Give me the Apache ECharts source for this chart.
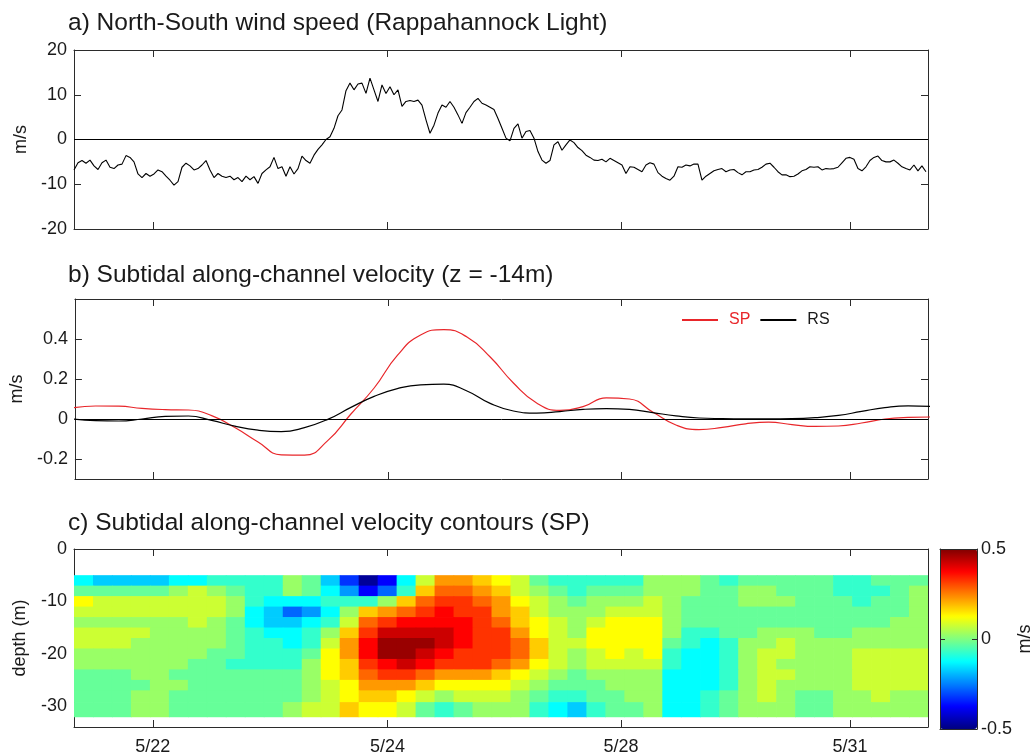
<!DOCTYPE html>
<html>
<head>
<meta charset="utf-8">
<script src="https://cdn.jsdelivr.net/npm/echarts@6/dist/echarts.min.js"></script>
<style>
  html, body { margin: 0; padding: 0; background: #ffffff; }
  #chart { width: 1035px; height: 756px; }
</style>
</head>
<body>
<div id="chart"></div>
<script>
// ---- time axis (shared by the three panels) ----
const tickPositions = [1, 2.01, 3.015, 4];
const tickLabels = ['5/22', '5/24', '5/28', '5/31'];
const timeMin = 0.661;
const timeMax = 4.336;

// ---- a) North-South wind speed, m/s, regular samples ----
const windStart = 0.661;
const windStep = 0.017212;
const windSpeed = [
  -6.8, -5.2, -4.7, -5.3, -4.6, -5.9, -6.7, -5.2, -4.6, -6.2,
  -6.5, -5.7, -5.5, -3.6, -4.0, -5.0, -7.7, -8.5, -7.6, -8.2,
  -7.7, -6.8, -7.2, -8.2, -9.1, -10.2, -9.4, -6.2, -5.3, -5.9,
  -6.8, -6.5, -5.7, -4.7, -6.8, -8.5, -7.6, -8.2, -8.5, -8.2,
  -9.0, -8.5, -9.4, -8.2, -9.0, -8.3, -9.8, -7.6, -6.8, -6.1,
  -4.0, -6.5, -6.1, -8.2, -6.1, -7.7, -6.5, -3.7, -4.7, -5.3,
  -3.5, -2.2, -1.2, 0.0, 0.6, 2.5, 5.3, 6.6, 10.9, 12.6,
  11.1, 12.4, 12.6, 10.3, 13.7, 11.1, 8.5, 12.2, 10.3, 11.8,
  10.0, 11.1, 7.4, 8.5, 8.7, 8.5, 8.8, 7.7, 4.4, 1.4,
  3.2, 5.9, 7.7, 7.2, 8.5, 7.2, 5.5, 3.6, 6.0, 7.2,
  8.5, 9.2, 8.1, 7.7, 7.2, 6.7, 4.7, 2.5, 0.3, -0.3,
  2.5, 3.5, 0.3, 1.8, 2.0, 0.3, -2.7, -4.6, -5.3, -4.7,
  -1.2, -0.5, -2.4, -1.2, -0.1, -0.7, -1.8, -2.5, -3.5, -4.0,
  -4.6, -4.7, -4.4, -5.0, -4.2, -4.7, -5.2, -5.7, -7.6, -6.1,
  -6.2, -6.7, -7.2, -5.7, -5.2, -5.5, -7.4, -8.2, -8.7, -9.1,
  -8.2, -6.1, -6.2, -5.7, -5.9, -5.5, -5.5, -9.1, -8.2, -7.6,
  -7.0, -6.7, -6.5, -7.2, -6.8, -6.7, -7.4, -7.9, -7.2, -7.2,
  -6.8, -6.7, -6.2, -5.5, -5.3, -6.2, -7.2, -7.9, -7.9, -8.3,
  -8.2, -7.7, -7.0, -6.7, -6.1, -6.2, -6.1, -6.8, -6.5, -6.6,
  -6.5, -6.2, -5.2, -4.2, -4.0, -4.4, -6.5, -7.0, -6.1, -4.7,
  -4.0, -3.7, -4.7, -5.0, -5.0, -4.6, -5.3, -6.1, -6.5, -6.8,
  -5.7, -7.0, -5.9, -7.2
];

// ---- b) subtidal along-channel velocity at z = -14 m, m/s ----
const velStart = 0.65;
const velStep = 0.1;
const velSP = [
  0.055, 0.065, 0.064, 0.053, 0.047, 0.045, 0.017, -0.043, -0.115, -0.179,
  -0.181, -0.108, 0.025, 0.155, 0.318, 0.42, 0.447, 0.41, 0.31, 0.18,
  0.08, 0.043, 0.062, 0.106, 0.1, 0.035, -0.03, -0.053, -0.042, -0.024,
  -0.016, -0.028, -0.037, -0.035, -0.02, 0.0, 0.008, 0.01
];
const velRS = [
  0.0, -0.008, -0.01, 0.0, 0.013, 0.015, -0.007, -0.036, -0.056, -0.063,
  -0.043, -0.002, 0.058, 0.113, 0.152, 0.171, 0.174, 0.14, 0.078, 0.04,
  0.029, 0.037, 0.048, 0.052, 0.048, 0.032, 0.016, 0.005, 0.002, 0.001,
  0.001, 0.002, 0.007, 0.018, 0.038, 0.057, 0.066, 0.063
];

// ---- c) SP velocity section: rows by depth, 45 time columns, m/s ----
const depthRows = [-6, -8, -10, -12, -14, -16, -18, -20, -22, -24, -26, -28, -30.5];
const sectionTop = -5;
const sectionBottom = -32;
const sectionSP = [
  [-0.13,-0.18,-0.18,-0.18,-0.18,-0.13,-0.13,-0.08,-0.08,-0.08,-0.08,0.03,-0.03,-0.18,-0.33, -0.47,-0.38,-0.13,0.08,0.23,0.23,0.18,0.13,0.08,-0.03,-0.08,-0.08,-0.08,-0.08,-0.08, 0.03,0.03,0.03,-0.03,-0.08,-0.03,-0.03,-0.03,-0.03,-0.03,-0.08,-0.08,-0.03,-0.03,-0.03],
  [-0.03,-0.03,-0.03,-0.03,-0.03,0.03,0.08,0.03,-0.03,-0.08,-0.08,0.03,-0.03,-0.13,-0.23, -0.38,-0.28,-0.08,0.18,0.28,0.28,0.23,0.18,0.08,0.03,-0.03,-0.08,-0.03,-0.03,-0.03, 0.03,0.03,0.03,-0.03,-0.03,0.03,0.03,-0.03,-0.03,-0.03,-0.08,-0.08,-0.08,-0.03,0.03],
  [0.13,0.08,0.08,0.08,0.08,0.08,0.08,0.08,0.03,-0.08,-0.13,-0.13,-0.13,-0.08,-0.08, -0.08,0.03,0.18,0.28,0.33,0.33,0.28,0.23,0.13,0.08,0.03,-0.03,0.03,0.03,0.03, 0.08,0.03,-0.03,-0.03,-0.03,0.03,0.03,0.03,-0.03,-0.03,-0.03,-0.08,-0.03,-0.03,0.03],
  [0.08,0.08,0.08,0.08,0.08,0.08,0.08,0.08,0.03,-0.13,-0.18,-0.28,-0.23,-0.13,0.03, 0.18,0.23,0.28,0.33,0.38,0.33,0.33,0.23,0.18,0.08,0.03,0.03,0.03,0.08,0.08, 0.08,0.03,-0.03,-0.03,-0.03,-0.03,-0.03,-0.03,-0.03,-0.03,-0.03,-0.03,-0.03,-0.03,0.03],
  [0.03,0.03,0.03,0.03,0.03,0.03,0.08,0.03,-0.03,-0.13,-0.18,-0.18,-0.13,-0.08,0.08, 0.28,0.33,0.38,0.38,0.38,0.38,0.33,0.28,0.18,0.13,0.08,0.03,0.08,0.13,0.13, 0.13,0.03,-0.03,-0.03,-0.03,-0.03,-0.03,-0.03,-0.03,-0.03,-0.03,-0.03,-0.03,0.03,0.03],
  [0.08,0.08,0.08,0.08,0.03,0.03,0.03,0.03,-0.03,-0.08,-0.13,-0.13,-0.08,0.03,0.18, 0.33,0.43,0.43,0.43,0.43,0.38,0.33,0.33,0.23,0.13,0.08,0.03,0.13,0.13,0.13, 0.13,0.03,-0.08,-0.08,-0.03,-0.03,0.03,0.03,0.03,-0.03,-0.03,0.03,0.03,0.03,0.03],
  [0.08,0.08,0.08,0.03,0.03,0.03,0.03,0.03,-0.03,-0.08,-0.08,-0.13,-0.08,0.08,0.23, 0.38,0.48,0.48,0.48,0.43,0.38,0.33,0.33,0.28,0.18,0.08,0.08,0.13,0.13,0.13, 0.13,-0.03,-0.08,-0.13,-0.08,0.03,0.03,0.08,0.03,0.03,0.03,0.03,0.03,0.03,0.03],
  [0.03,0.03,0.03,0.03,0.03,0.03,0.03,-0.03,-0.03,-0.08,-0.08,-0.08,-0.03,0.13,0.23, 0.38,0.48,0.48,0.43,0.38,0.33,0.33,0.33,0.28,0.18,0.08,0.03,0.08,0.13,0.08, 0.13,-0.08,-0.13,-0.13,-0.08,0.03,0.08,0.08,0.03,0.03,0.03,0.08,0.08,0.08,0.08],
  [0.03,0.03,0.03,0.03,0.03,0.03,-0.03,-0.03,-0.08,-0.08,-0.08,-0.08,0.03,0.13,0.18, 0.33,0.38,0.43,0.38,0.33,0.33,0.33,0.28,0.23,0.13,0.08,0.03,0.08,0.08,0.08, 0.08,-0.08,-0.13,-0.13,-0.08,0.03,0.08,0.03,0.03,0.03,0.03,0.08,0.08,0.08,0.08],
  [-0.03,-0.03,-0.03,0.03,0.03,-0.03,-0.03,-0.03,-0.03,-0.03,-0.03,-0.03,0.03,0.13,0.18, 0.28,0.33,0.33,0.28,0.23,0.23,0.23,0.18,0.13,0.08,0.03,-0.03,0.03,0.03,0.03, 0.03,-0.13,-0.13,-0.13,-0.08,0.03,0.08,0.08,0.03,0.03,0.03,0.08,0.08,0.08,0.08],
  [-0.03,-0.03,-0.03,-0.03,0.03,0.03,-0.03,-0.03,-0.03,-0.03,-0.03,-0.03,0.03,0.08,0.13, 0.23,0.23,0.23,0.18,0.13,0.13,0.13,0.13,0.08,0.03,-0.03,-0.03,-0.03,0.03,0.03, 0.03,-0.13,-0.13,-0.13,-0.08,0.03,0.08,0.03,0.03,0.03,0.03,0.08,0.08,0.08,0.08],
  [-0.03,-0.03,-0.03,0.03,0.03,-0.03,-0.03,-0.03,-0.03,-0.03,-0.03,-0.03,0.03,0.08,0.13, 0.18,0.18,0.13,0.08,0.03,0.08,0.08,0.08,0.03,-0.03,-0.08,-0.08,-0.03,-0.03,0.03, 0.03,-0.13,-0.13,-0.08,-0.03,0.03,0.08,0.03,-0.03,-0.03,0.03,0.03,0.08,0.03,0.03],
  [-0.03,-0.03,-0.03,0.03,0.03,-0.03,-0.03,-0.03,-0.03,-0.03,-0.03,0.03,0.08,0.08,0.18, 0.13,0.13,0.08,-0.03,-0.08,-0.03,0.03,0.03,0.03,-0.08,-0.13,-0.18,-0.08,-0.03,-0.03, 0.03,-0.13,-0.13,-0.08,-0.03,0.03,0.03,0.03,-0.03,-0.03,0.03,0.03,0.03,0.03,0.03]
];
const contourLevels = [-0.5, -0.45, -0.4, -0.35, -0.3, -0.25, -0.2, -0.15, -0.1, -0.05, 0,
  0.05, 0.1, 0.15, 0.2, 0.25, 0.3, 0.35, 0.4, 0.45, 0.5];

const titles = [
  'a) North-South wind speed (Rappahannock Light)',
  'b) Subtidal along-channel velocity (z = -14m)',
  'c) Subtidal along-channel velocity contours (SP)'
];

// ---- styling helpers ----
const FONT = '"Liberation Sans", Arial, Helvetica, sans-serif';
const INK = '#1a1a1a';
const FRAME = '#2b2b2b';
const RED = '#e8262a';

function jet(t) {
  const c = v => Math.max(0, Math.min(1, v));
  const r = c(1.5 - Math.abs(4 * t - 3));
  const g = c(1.5 - Math.abs(4 * t - 2));
  const b = c(1.5 - Math.abs(4 * t - 1));
  return 'rgb(' + Math.round(r * 255) + ',' + Math.round(g * 255) + ',' + Math.round(b * 255) + ')';
}
const cMin = contourLevels[0], cMax = contourLevels[contourLevels.length - 1];
const bandPieces = [];
for (let i = 0; i < contourLevels.length - 1; i++) {
  const lo = contourLevels[i], hi = contourLevels[i + 1];
  bandPieces.push({ gte: lo, lt: hi, color: jet(((lo + hi) / 2 - cMin) / (cMax - cMin)) });
}
bandPieces[bandPieces.length - 1].lte = cMax;
delete bandPieces[bandPieces.length - 1].lt;
const jetStops = [];
for (let i = 0; i <= 64; i++) jetStops.push(jet(i / 64));

function timeLabel(v) {
  const i = tickPositions.findIndex(t => Math.abs(t - v) < 1e-6);
  return i >= 0 ? tickLabels[i] : '';
}

function xPair(grid, withLabels) {
  const base = {
    type: 'value', gridIndex: grid, min: timeMin, max: timeMax,
    axisLine: { show: true, onZero: false, lineStyle: { color: FRAME, width: 1 } },
    axisTick: { show: true, inside: true, length: 7, customValues: tickPositions, lineStyle: { color: FRAME } },
    splitLine: { show: false }
  };
  return [
    Object.assign({}, base, {
      position: 'bottom',
      axisLabel: withLabels
        ? { show: true, customValues: tickPositions, formatter: timeLabel, color: INK, fontSize: 18, fontFamily: FONT, margin: 11 }
        : { show: false }
    }),
    Object.assign({}, base, { position: 'top', axisLabel: { show: false } })
  ];
}

function yPair(grid, min, max, ticks, fmt, name, nameGap) {
  const base = {
    type: 'value', gridIndex: grid, min: min, max: max,
    axisLine: { show: true, onZero: false, lineStyle: { color: FRAME, width: 1 } },
    axisTick: { show: true, inside: true, length: 7, customValues: ticks, lineStyle: { color: FRAME } },
    splitLine: { show: false }
  };
  return [
    Object.assign({}, base, {
      position: 'left',
      axisLabel: { show: true, customValues: ticks, formatter: fmt, color: INK, fontSize: 18, fontFamily: FONT, margin: 7 },
      name: name, nameLocation: 'middle', nameGap: nameGap, nameRotate: 90,
      nameTextStyle: { color: INK, fontSize: 18, fontFamily: FONT }
    }),
    Object.assign({}, base, { position: 'right', axisLabel: { show: false } })
  ];
}

const zeroLine = {
  silent: true, symbol: ['none', 'none'], label: { show: false },
  lineStyle: { color: '#000', width: 1, type: 'solid' },
  emphasis: { disabled: true },
  data: [{ yAxis: 0 }]
};

// section cells: [time centre, depth centre, value, column, row]
const nCols = sectionSP[0].length;
const colEdges = [];
for (let c = 0; c <= nCols; c++) colEdges.push(timeMin + (timeMax - timeMin) * c / nCols);
const rowEdges = [sectionTop];
for (let r = 0; r < depthRows.length - 1; r++) rowEdges.push((depthRows[r] + depthRows[r + 1]) / 2);
rowEdges.push(sectionBottom);
const cells = [];
sectionSP.forEach((row, r) => {
  row.forEach((v, c) => {
    cells.push([(colEdges[c] + colEdges[c + 1]) / 2, depthRows[r], v, c, r]);
  });
});

const plainFmt = v => String(v);
const titleStyle = { fontSize: 24.5, fontWeight: 'normal', color: INK, fontFamily: FONT };

const option = {
  animation: false,
  backgroundColor: '#ffffff',
  title: [
    { text: titles[0], left: 68, top: 11, padding: 0, textStyle: titleStyle },
    { text: titles[1], left: 68, top: 263, padding: 0, textStyle: titleStyle },
    { text: titles[2], left: 68, top: 511, padding: 0, textStyle: titleStyle }
  ],
  legend: {
    left: 682, top: 312, padding: 0, itemWidth: 36, itemHeight: 2, itemGap: 10, icon: 'rect',
    textStyle: { fontSize: 16, fontFamily: FONT, color: INK, padding: [0, 0, 0, 6] },
    data: [
      { name: 'SP', textStyle: { color: RED } },
      { name: 'RS', textStyle: { color: INK } }
    ]
  },
  grid: [
    { left: 74, top: 50, width: 854, height: 179 },
    { left: 74, top: 299, width: 854, height: 180 },
    { left: 74, top: 549, width: 854, height: 180 },
    { left: 940, top: 549, width: 37, height: 180 }
  ],
  xAxis: [].concat(
    xPair(0, false),
    xPair(1, false),
    xPair(2, true),
    [
      { type: 'value', gridIndex: 3, min: 0, max: 1, position: 'bottom', z: 8,
        axisLine: { show: true, onZero: false, lineStyle: { color: FRAME } }, axisTick: { show: false }, axisLabel: { show: false }, splitLine: { show: false } },
      { type: 'value', gridIndex: 3, min: 0, max: 1, position: 'top', z: 8,
        axisLine: { show: true, onZero: false, lineStyle: { color: FRAME } }, axisTick: { show: false }, axisLabel: { show: false }, splitLine: { show: false } }
    ]
  ),
  yAxis: [].concat(
    yPair(0, -20, 20, [-20, -10, 0, 10, 20], plainFmt, 'm/s', 40),
    yPair(1, -0.3, 0.6, [-0.2, 0, 0.2, 0.4], plainFmt, 'm/s', 44),
    yPair(2, -34, 0, [-30, -20, -10, 0], plainFmt, 'depth (m)', 45),
    [
      { type: 'value', gridIndex: 3, min: -0.5, max: 0.5, position: 'right', z: 8,
        axisLine: { show: true, onZero: false, lineStyle: { color: FRAME } },
        axisTick: { show: true, inside: true, length: 5, customValues: [-0.5, 0, 0.5], lineStyle: { color: FRAME } },
        axisLabel: { show: true, customValues: [-0.5, 0, 0.5], formatter: plainFmt, color: INK, fontSize: 18, fontFamily: FONT, margin: 4 },
        splitLine: { show: false },
        name: 'm/s', nameLocation: 'middle', nameGap: 23, nameRotate: 90,
        nameTextStyle: { color: INK, fontSize: 18, fontFamily: FONT } },
      { type: 'value', gridIndex: 3, min: -0.5, max: 0.5, position: 'left', z: 8,
        axisLine: { show: true, onZero: false, lineStyle: { color: FRAME } },
        axisTick: { show: true, inside: true, length: 5, customValues: [-0.5, 0, 0.5], lineStyle: { color: FRAME } },
        axisLabel: { show: false }, splitLine: { show: false } }
    ]
  ),
  visualMap: [
    {
      type: 'continuous', seriesIndex: 4, min: cMin, max: cMax,
      orient: 'vertical', left: 940, top: 549, padding: 0,
      itemWidth: 37, itemHeight: 180, calculable: false, hoverLink: false,
      inRange: { color: jetStops }
    },
    {
      type: 'piecewise', show: false, seriesIndex: 3, dimension: 2,
      pieces: bandPieces
    }
  ],
  series: [
    {
      name: 'wind', type: 'line', xAxisIndex: 0, yAxisIndex: 0,
      data: windSpeed.map((v, i) => [windStart + i * windStep, v]),
      showSymbol: false, silent: true,
      lineStyle: { color: '#000', width: 1.1 },
      markLine: zeroLine
    },
    {
      name: 'SP', type: 'line', xAxisIndex: 2, yAxisIndex: 2,
      data: velSP.map((v, i) => [velStart + i * velStep, v]),
      smooth: 0.5, showSymbol: false, silent: true, color: RED,
      lineStyle: { color: RED, width: 1.2 },
      markLine: zeroLine
    },
    {
      name: 'RS', type: 'line', xAxisIndex: 2, yAxisIndex: 2,
      data: velRS.map((v, i) => [velStart + i * velStep, v]),
      smooth: 0.5, showSymbol: false, silent: true, color: '#000',
      lineStyle: { color: '#000', width: 1.2 }
    },
    {
      name: 'section', type: 'custom', xAxisIndex: 4, yAxisIndex: 4,
      dimensions: ['time', 'depth', 'vel', 'col', 'row'],
      encode: { x: 0, y: 1 },
      clip: true, silent: true,
      data: cells,
      renderItem: function (params, api) {
        const c = api.value(3), r = api.value(4);
        const p0 = api.coord([colEdges[c], rowEdges[r]]);
        const p1 = api.coord([colEdges[c + 1], rowEdges[r + 1]]);
        return {
          type: 'rect',
          shape: { x: p0[0], y: p0[1], width: p1[0] - p0[0] + 0.7, height: p1[1] - p0[1] + 0.7 },
          style: { fill: api.visual('color') }
        };
      }
    },
    {
      name: 'colorbar', type: 'scatter', xAxisIndex: 6, yAxisIndex: 6,
      data: [], silent: true
    }
  ]
};

const chart = echarts.init(document.getElementById('chart'), null, { renderer: 'canvas' });
chart.setOption(option);
</script>
</body>
</html>
